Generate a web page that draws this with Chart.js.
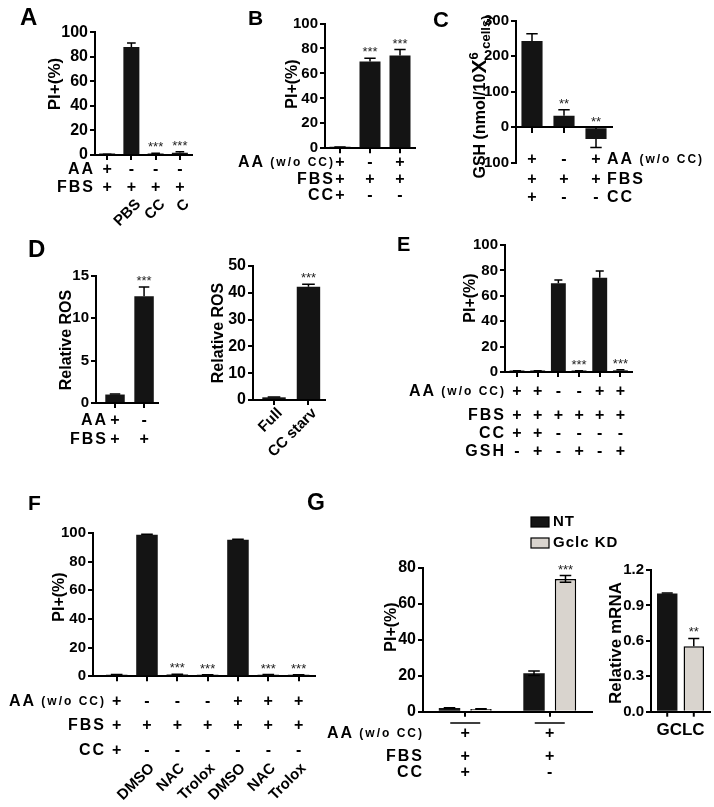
<!DOCTYPE html>
<html>
<head>
<meta charset="utf-8">
<script src="https://cdn.jsdelivr.net/npm/chart.js@4.4.1/dist/chart.umd.min.js"></script>
<style>
    body { margin: 0; background: #fff; }
    #fig { position: relative; width: 714px; height: 807px; }
    #fig canvas { position: absolute; left: 0; top: 0; }
</style>
</head>
<body>
<div id="fig"></div>
<script>
// ===== DATA =====
// A
const aLabels = ['', 'PBS', 'CC', 'C'];
const aAA = ['+', '-', '-', '-'];
const aFBS = ['+', '+', '+', '+'];
const aValues = [0.5, 88, 1.0, 1.8];
const aErrors = [0.2, 3.3, 0.4, 0.8];
const aStars = ['', '', '***', '***'];

// B
const bAA = ['+', '-', '+'];
const bFBS = ['+', '+', '+'];
const bCC = ['+', '-', '-'];
const bValues = [0.8, 69.5, 74.3];
const bErrors = [0.2, 2.6, 4.8];
const bStars = ['', '***', '***'];

// C
const cAA = ['+', '-', '+'];
const cFBS = ['+', '+', '+'];
const cCC = ['+', '-', '-'];
const cValues = [243, 32, -33];
const cErrors = [20, 17, 24];
const cStars = ['', '**', '**'];

// D
const d1AA = ['+', '-'];
const d1FBS = ['+', '+'];
const d1Values = [1.0, 12.6];
const d1Errors = [0.05, 1.1];
const d1Stars = ['', '***'];
const d2Labels = ['Full', 'CC starv'];
const d2Values = [1.0, 42.3];
const d2Errors = [0.15, 0.9];
const d2Stars = ['', '***'];

// E
const eAA = ['+', '+', '-', '-', '+', '+'];
const eFBS = ['+', '+', '+', '+', '+', '+'];
const eCC = ['+', '+', '-', '-', '-', '-'];
const eGSH = ['-', '+', '-', '+', '-', '+'];
const eValues = [0.7, 0.7, 69.8, 0.7, 74.3, 1.3];
const eErrors = [0.2, 0.2, 2.6, 0.2, 5.2, 0.4];
const eStars = ['', '', '', '***', '', '***'];

// F
const fLabels = ['', 'DMSO', 'NAC', 'Trolox', 'DMSO', 'NAC', 'Trolox'];
const fAA = ['+', '-', '-', '-', '+', '+', '+'];
const fFBS = ['+', '+', '+', '+', '+', '+', '+'];
const fCC = ['+', '-', '-', '-', '-', '-', '-'];
const fValues = [1.0, 98.8, 1.2, 0.8, 95.3, 1.0, 0.9];
const fErrors = [0.2, 0.3, 0.3, 0.2, 0.3, 0.2, 0.2];
const fStars = ['', '', '***', '***', '', '***', '***'];

// G
const gSeries = ['NT', 'Gclc KD'];
const gAA = ['+', '+'];
const gFBS = ['+', '+'];
const gCC = ['+', '-'];
const gNT = [2.0, 21.4];
const gNTErr = [0.2, 1.3];
const gKD = [1.5, 73.9];
const gKDErr = [0.2, 1.9];
const gKDStars = ['', '***'];
const mrnaGene = 'GCLC';
const mrnaNT = [1.0];
const mrnaNTErr = [0.005];
const mrnaKD = [0.555];
const mrnaKDErr = [0.065];
const mrnaKDStars = ['**'];

// ===== STYLE =====
const W = 714, H = 807, Y_W = 40, X_H = 8;
const FONT = "'Liberation Sans', Arial, sans-serif";
const INK = '#141414';
const GREY = '#d9d4ce';

function f(size, bold) {
    return (bold === false ? '' : 'bold ') + size + 'px ' + FONT;
}

const L_AA = [{ text: 'AA', font: f(16), ls: '2px' }];
const L_AAW = [{ text: 'AA', font: f(16), ls: '2px' }, { text: ' (w/o CC)', font: f(12), ls: '2px' }];
const L_FBS = [{ text: 'FBS', font: f(16), ls: '2px' }];
const L_CC = [{ text: 'CC', font: f(16), ls: '2px' }];
const L_GSH = [{ text: 'GSH', font: f(16), ls: '2px' }];

function drawSegs(ctx, segs, x, y, align) {
    let total = 0;
    const widths = segs.map(s => {
        ctx.font = s.font;
        ctx.letterSpacing = s.ls || '0px';
        const w = ctx.measureText(s.text).width;
        total += w;
        return w;
    });
    let cx = align === 'right' ? x - total : (align === 'center' ? x - total / 2 : x);
    ctx.textAlign = 'left';
    ctx.textBaseline = 'middle';
    segs.forEach((s, i) => {
        ctx.font = s.font;
        ctx.letterSpacing = s.ls || '0px';
        ctx.fillText(s.text, cx, y + (s.dy || 0));
        cx += widths[i];
    });
    ctx.letterSpacing = '0px';
}

// ===== DECORATION (error bars, stars, tables, labels) =====
function drawDeco(chart, p) {
    const ctx = chart.ctx;
    const xs = chart.scales.x, ys = chart.scales.y;
    ctx.save();
    ctx.fillStyle = '#000';
    ctx.strokeStyle = '#000';

    chart.data.datasets.forEach((ds, di) => {
        chart.getDatasetMeta(di).data.forEach((bar, i) => {
            const v = ds.data[i].y, e = ds.err[i], dir = v < 0 ? -1 : 1;
            const yEnd = ys.getPixelForValue(v + dir * e);
            const cap = bar.width * 0.27;
            ctx.lineWidth = 1.5;
            ctx.beginPath();
            ctx.moveTo(bar.x, bar.y);
            ctx.lineTo(bar.x, yEnd);
            ctx.moveTo(bar.x - cap, yEnd);
            ctx.lineTo(bar.x + cap, yEnd);
            if (p.errBoth) {
                const yLow = ys.getPixelForValue(v - dir * e);
                ctx.moveTo(bar.x, bar.y);
                ctx.lineTo(bar.x, yLow);
                ctx.moveTo(bar.x - cap, yLow);
                ctx.lineTo(bar.x + cap, yLow);
            }
            ctx.stroke();
            if (p.barTicks) {
                ctx.lineWidth = 2;
                ctx.beginPath();
                ctx.moveTo(bar.x, ys.bottom);
                ctx.lineTo(bar.x, ys.bottom + 5);
                ctx.stroke();
            }
            const star = ds.stars && ds.stars[i];
            if (star) {
                ctx.font = f(13, false);
                ctx.textAlign = 'center';
                ctx.textBaseline = 'alphabetic';
                ctx.fillStyle = '#222';
                ctx.fillText(star, bar.x, Math.min(bar.y, bar.base, yEnd) - 2);
                ctx.fillStyle = '#000';
            }
        });
    });

    if (p.title) {
        ctx.font = f(p.title.size);
        ctx.textAlign = 'left';
        ctx.textBaseline = 'alphabetic';
        ctx.fillText(p.title.text, p.title.x, p.title.y);
    }

    if (p.ylab) {
        ctx.save();
        ctx.translate(p.ylab.x, p.ylab.y);
        ctx.rotate(-Math.PI / 2);
        drawSegs(ctx, p.ylab.segs, 0, 0, 'center');
        ctx.restore();
    }

    (p.rows || []).forEach(r => {
        drawSegs(ctx, r.label, p.rowX, r.y, p.rowAlign || 'right');
        ctx.font = f(16);
        ctx.textAlign = 'center';
        ctx.textBaseline = 'middle';
        r.marks.forEach((m, i) => ctx.fillText(m, xs.getPixelForValue(i), r.y));
    });

    if (p.groupLines) {
        ctx.lineWidth = 1.5;
        ctx.beginPath();
        xs.ticks.forEach(t => {
            const cx = xs.getPixelForValue(t.value);
            ctx.moveTo(cx - p.groupLines.half, p.groupLines.y);
            ctx.lineTo(cx + p.groupLines.half, p.groupLines.y);
        });
        ctx.stroke();
    }

    if (p.rot) {
        p.rot.labels.forEach((t, i) => {
            if (!t) return;
            ctx.save();
            ctx.translate(xs.getPixelForValue(i) + p.rot.dx, p.rot.y);
            ctx.rotate(-Math.PI / 4);
            ctx.font = f(15);
            ctx.textAlign = 'right';
            ctx.textBaseline = 'middle';
            ctx.fillText(t, 0, 0);
            ctx.restore();
        });
    }

    if (p.xLabel) {
        ctx.font = f(17);
        ctx.textAlign = 'center';
        ctx.textBaseline = 'middle';
        ctx.fillText(p.xLabel.text, xs.getPixelForValue(0), p.xLabel.y);
    }

    if (p.legend) {
        chart.data.datasets.forEach((ds, di) => {
            const y = p.legend.y + di * p.legend.step;
            ctx.fillStyle = ds.backgroundColor;
            ctx.fillRect(p.legend.x, y - 5, 18, 10);
            ctx.lineWidth = 1.2;
            ctx.strokeRect(p.legend.x, y - 5, 18, 10);
            ctx.fillStyle = '#000';
            drawSegs(ctx, [{ text: ds.label, font: f(15), ls: '1px' }], p.legend.x + 22, y, 'left');
        });
    }
    ctx.restore();
}

// ===== PANEL FACTORY =====
function makePanel(p) {
    const canvas = document.createElement('canvas');
    canvas.width = W;
    canvas.height = H;
    document.getElementById('fig').appendChild(canvas);

    const count = p.series[0].values.length;
    const datasets = p.series.map(s => ({
        label: s.label,
        data: s.values.map((v, i) => ({ x: i, y: v })),
        err: s.errors,
        stars: s.stars,
        backgroundColor: s.color || INK,
        borderColor: '#000',
        borderWidth: s.color === GREY ? 1.5 : 0,
        categoryPercentage: p.cat || 1,
        barPercentage: p.bar,
        minBarLength: 1.5
    }));

    const [left, top, right, bottom] = p.area;
    const tickFont = { family: FONT, size: p.tickSize || 14, weight: 'bold' };

    return new Chart(canvas, {
        type: 'bar',
        data: { datasets },
        options: {
            responsive: false,
            animation: false,
            events: [],
            layout: {
                padding: {
                    left: left - Y_W,
                    top: top,
                    right: W - right,
                    bottom: H - bottom - (p.zeroAxis ? 0 : X_H)
                }
            },
            plugins: {
                legend: { display: false },
                tooltip: { enabled: false }
            },
            scales: {
                x: {
                    type: 'linear',
                    min: p.xMin,
                    max: p.xMax,
                    bounds: 'data',
                    offset: false,
                    position: p.zeroAxis ? { y: 0 } : 'bottom',
                    grid: {
                        display: true,
                        offset: false,
                        drawOnChartArea: false,
                        drawTicks: !p.barTicks,
                        tickLength: 5,
                        color: '#000',
                        lineWidth: 2
                    },
                    border: { display: true, color: '#000', width: 2 },
                    ticks: { display: false },
                    afterBuildTicks: s => {
                        s.ticks = Array.from({ length: count }, (_, i) => ({ value: i }));
                    },
                    afterFit: s => { s.height = X_H; }
                },
                y: {
                    min: p.yMin,
                    max: p.yMax,
                    grid: {
                        display: true,
                        drawOnChartArea: false,
                        tickLength: 5,
                        color: '#000',
                        lineWidth: 2
                    },
                    border: { display: true, color: '#000', width: 2 },
                    ticks: {
                        stepSize: p.yStep,
                        color: '#000',
                        font: tickFont,
                        padding: 2,
                        callback: p.fmt || (v => v)
                    },
                    afterFit: s => { s.width = Y_W; }
                }
            }
        },
        plugins: [{ id: 'deco', afterDraw: c => drawDeco(c, p) }]
    });
}

const ylabPI = size => [{ text: 'PI+(%)', font: f(size) }];

// ===== A =====
makePanel({
    area: [95, 32.3, 192, 155], xMin: -0.5, xMax: 3.5, bar: 0.66,
    yMin: 0, yMax: 100, yStep: 20, tickSize: 16,
    series: [{ label: 'A', values: aValues, errors: aErrors, stars: aStars }],
    title: { text: 'A', x: 20, y: 25, size: 24 },
    ylab: { x: 55, y: 84, segs: ylabPI(17) },
    rowX: 95,
    rows: [{ label: L_AA, marks: aAA, y: 170 }, { label: L_FBS, marks: aFBS, y: 188 }],
    rot: { labels: aLabels, dx: 7, y: 202 }
});

// ===== B =====
makePanel({
    area: [325, 23.5, 415, 148.3], xMin: -0.5, xMax: 2.5, bar: 0.7,
    yMin: 0, yMax: 100, yStep: 20, tickSize: 15,
    series: [{ label: 'B', values: bValues, errors: bErrors, stars: bStars }],
    title: { text: 'B', x: 248, y: 25, size: 21 },
    ylab: { x: 293, y: 84, segs: ylabPI(16) },
    rowX: 335,
    rows: [
        { label: L_AAW, marks: bAA, y: 163 },
        { label: L_FBS, marks: bFBS, y: 180 },
        { label: L_CC, marks: bCC, y: 196 }
    ]
});

// ===== C =====
makePanel({
    area: [516, 20.7, 612, 162.7], xMin: -0.5, xMax: 2.5, bar: 0.66, zeroAxis: true,
    yMin: -100, yMax: 300, yStep: 100, tickSize: 15,
    series: [{ label: 'C', values: cValues, errors: cErrors, stars: cStars }],
    title: { text: 'C', x: 433, y: 27, size: 22 },
    ylab: {
        x: 481, y: 97, segs: [
            { text: 'GSH (nmol/10', font: f(16) },
            { text: 'X', font: f(21), dy: -1 },
            { text: '6', font: f(13), dy: -7 },
            { text: ' cells)', font: f(13), dy: 5 }
        ]
    },
    rowX: 607, rowAlign: 'left',
    rows: [
        { label: L_AAW, marks: cAA, y: 160 },
        { label: L_FBS, marks: cFBS, y: 180 },
        { label: L_CC, marks: cCC, y: 198 }
    ]
});

// ===== D =====
makePanel({
    area: [96, 276, 158, 403], xMin: -0.655, xMax: 1.48, bar: 0.67,
    yMin: 0, yMax: 15, yStep: 5, tickSize: 15,
    series: [{ label: 'D', values: d1Values, errors: d1Errors, stars: d1Stars }],
    title: { text: 'D', x: 28, y: 257, size: 24 },
    ylab: { x: 67, y: 340, segs: [{ text: 'Relative ROS', font: f(16) }] },
    rowX: 108,
    rows: [{ label: L_AA, marks: d1AA, y: 421 }, { label: L_FBS, marks: d1FBS, y: 440 }]
});

makePanel({
    area: [253, 266, 325, 400], xMin: -0.61, xMax: 1.48, bar: 0.68,
    yMin: 0, yMax: 50, yStep: 10, tickSize: 16,
    series: [{ label: 'D2', values: d2Values, errors: d2Errors, stars: d2Stars }],
    ylab: { x: 219, y: 333, segs: [{ text: 'Relative ROS', font: f(16) }] },
    rot: { labels: d2Labels, dx: 6, y: 411 }
});

// ===== E =====
makePanel({
    area: [505, 245, 632, 372], xMin: -0.58, xMax: 5.56, bar: 0.72,
    yMin: 0, yMax: 100, yStep: 20, tickSize: 15,
    series: [{ label: 'E', values: eValues, errors: eErrors, stars: eStars }],
    title: { text: 'E', x: 397, y: 251, size: 20 },
    ylab: { x: 471, y: 298, segs: ylabPI(16) },
    rowX: 506,
    rows: [
        { label: L_AAW, marks: eAA, y: 392 },
        { label: L_FBS, marks: eFBS, y: 416 },
        { label: L_CC, marks: eCC, y: 434 },
        { label: L_GSH, marks: eGSH, y: 452 }
    ]
});

// ===== F =====
makePanel({
    area: [93, 533, 315, 676.3], xMin: -0.78, xMax: 6.54, bar: 0.71,
    yMin: 0, yMax: 100, yStep: 20, tickSize: 15,
    series: [{ label: 'F', values: fValues, errors: fErrors, stars: fStars }],
    title: { text: 'F', x: 28, y: 510, size: 21 },
    ylab: { x: 60, y: 597, segs: ylabPI(16) },
    rowX: 106,
    rows: [
        { label: L_AAW, marks: fAA, y: 702 },
        { label: L_FBS, marks: fFBS, y: 726 },
        { label: L_CC, marks: fCC, y: 751 }
    ],
    rot: { labels: fLabels, dx: 5, y: 766 }
});

// ===== G =====
makePanel({
    area: [423, 568, 592, 711.7], xMin: -0.5, xMax: 1.5, cat: 0.745, bar: 0.68, errBoth: true,
    yMin: 0, yMax: 80, yStep: 20, tickSize: 16,
    series: [
        { label: gSeries[0], values: gNT, errors: gNTErr, stars: [] },
        { label: gSeries[1], values: gKD, errors: gKDErr, stars: gKDStars, color: GREY }
    ],
    title: { text: 'G', x: 307, y: 510, size: 23 },
    ylab: { x: 392, y: 627, segs: ylabPI(16) },
    rowX: 424,
    rows: [
        { label: L_AAW, marks: gAA, y: 734 },
        { label: L_FBS, marks: gFBS, y: 757 },
        { label: L_CC, marks: gCC, y: 773 }
    ],
    groupLines: { y: 723, half: 15 },
    legend: { x: 531, y: 522, step: 21 }
});

makePanel({
    area: [651, 570, 710, 711.7], xMin: -0.5, xMax: 0.5, cat: 0.9, bar: 0.77, barTicks: true,
    yMin: 0, yMax: 1.2, yStep: 0.3, tickSize: 15, fmt: v => v.toFixed(1),
    series: [
        { label: gSeries[0], values: mrnaNT, errors: mrnaNTErr, stars: [] },
        { label: gSeries[1], values: mrnaKD, errors: mrnaKDErr, stars: mrnaKDStars, color: GREY }
    ],
    ylab: { x: 616, y: 643, segs: [{ text: 'Relative mRNA', font: f(17) }] },
    xLabel: { text: mrnaGene, y: 730 }
});
</script>
</body>
</html>
